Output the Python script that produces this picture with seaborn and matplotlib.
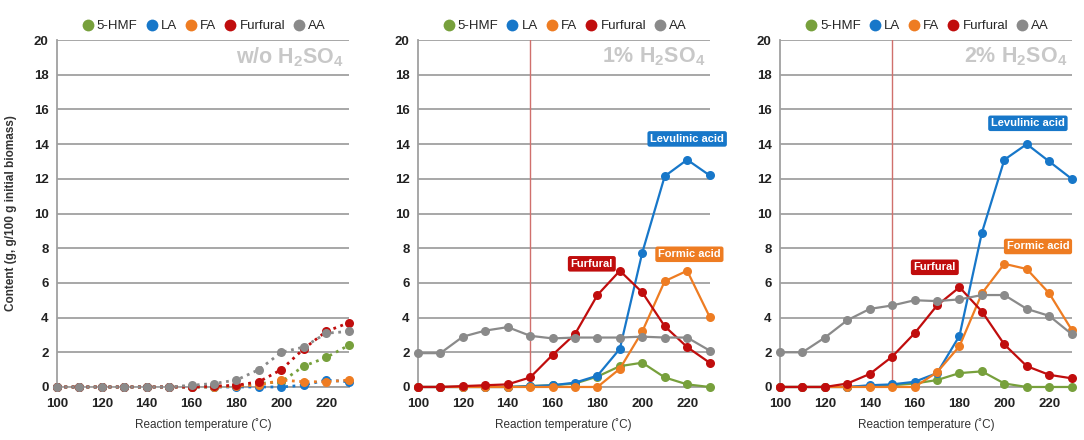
"""
Product content vs reaction temperature for three acid loadings (w/o, 1%, 2% H2SO4).
"""

import matplotlib
matplotlib.use("Agg")
import matplotlib.pyplot as plt
import seaborn as sns
import pandas as pd

OUTPUT_FILE = "out.png"

TEMPS = [100, 110, 120, 130, 140, 150, 160, 170, 180, 190, 200, 210, 220, 230]
COMPOUNDS = ["5-HMF", "LA", "FA", "Furfural", "AA"]
COLORS = {"5-HMF": "#77a03c", "LA": "#1777c9", "FA": "#ee7c22", "Furfural": "#c00d0d", "AA": "#8a8a8a"}

# w/o H2SO4
HMF_0 = [0, 0, 0, 0, 0, 0, 0, 0, 0.05, 0.2, 0.3, 1.2, 1.7, 2.4]
LA_0 = [0, 0, 0, 0, 0, 0, 0, 0, 0, 0, 0, 0.1, 0.4, 0.3]
FA_0 = [0, 0, 0, 0, 0, 0, 0, 0, 0.05, 0.1, 0.4, 0.3, 0.3, 0.4]
FUR_0 = [0, 0, 0, 0, 0, 0, 0, 0.05, 0.1, 0.3, 1.0, 2.2, 3.2, 3.7]
AA_0 = [0, 0, 0, 0, 0, 0, 0.1, 0.2, 0.4, 1.0, 2.0, 2.3, 3.1, 3.2]

# 1% H2SO4
HMF_1 = [0, 0, 0, 0, 0, 0.05, 0.1, 0.2, 0.6, 1.2, 1.4, 0.55, 0.15, 0.0]
LA_1 = [0, 0, 0, 0, 0, 0.05, 0.1, 0.25, 0.65, 2.2, 7.75, 12.15, 13.1, 12.2]
FA_1 = [0, 0, 0, 0, 0, 0, 0, 0, 0, 1.05, 3.2, 6.1, 6.7, 4.05]
FUR_1 = [0, 0, 0.05, 0.1, 0.15, 0.55, 1.85, 3.05, 5.3, 6.7, 5.45, 3.5, 2.3, 1.4]
AA_1 = [1.95, 1.95, 2.9, 3.25, 3.45, 2.95, 2.8, 2.85, 2.85, 2.85, 2.9, 2.85, 2.85, 2.1]

# 2% H2SO4
HMF_2 = [0, 0, 0, 0, 0.05, 0.1, 0.2, 0.4, 0.8, 0.9, 0.2, 0, 0, 0]
LA_2 = [0, 0, 0, 0, 0.1, 0.15, 0.3, 0.8, 2.95, 8.9, 13.1, 14.0, 13.0, 12.0]
FA_2 = [0, 0, 0, 0, 0, 0, 0, 0.85, 2.35, 5.4, 7.1, 6.8, 5.4, 3.3]
FUR_2 = [0, 0, 0, 0.2, 0.75, 1.75, 3.1, 4.7, 5.75, 4.35, 2.45, 1.2, 0.7, 0.5]
AA_2 = [2.0, 2.0, 2.85, 3.85, 4.5, 4.7, 5.0, 4.95, 5.05, 5.3, 5.3, 4.5, 4.1, 3.05]

PANEL_TITLES = ["w/o H$_2$SO$_4$", "1% H$_2$SO$_4$", "2% H$_2$SO$_4$"]
PANEL_DATA = [
    [HMF_0, LA_0, FA_0, FUR_0, AA_0],
    [HMF_1, LA_1, FA_1, FUR_1, AA_1],
    [HMF_2, LA_2, FA_2, FUR_2, AA_2],
]
PANEL_STYLE = [":", "-", "-"]

# callout labels (text, compound, x, y) for acid panels
CALLOUTS = [
    [],
    [("Levulinic acid", "LA", 220, 14.3), ("Formic acid", "FA", 221, 7.65), ("Furfural", "Furfural", 177.5, 7.1)],
    [("Levulinic acid", "LA", 210.5, 15.2), ("Formic acid", "FA", 215, 8.1), ("Furfural", "Furfural", 169, 6.9)],
]

sns.set_style("white")
plt.rcParams["font.family"] = ["Liberation Sans", "DejaVu Sans"]
plt.rcParams["mathtext.default"] = "regular"

fig = plt.figure(figsize=(10.84, 4.4), dpi=100)
lefts = [0.0526, 0.3856, 0.7196]
width = 0.269
bottom, top = 0.1205, 0.909

for i in range(3):
    ax = fig.add_axes([lefts[i], bottom, width, top - bottom])
    df = pd.DataFrame({"temp": TEMPS * 5,
                       "value": sum(PANEL_DATA[i], []),
                       "compound": [c for c in COMPOUNDS for _ in TEMPS]})
    for comp in COMPOUNDS:
        sub = df[df["compound"] == comp]
        sns.lineplot(data=sub, x="temp", y="value", ax=ax, color=COLORS[comp],
                     linestyle=PANEL_STYLE[i], linewidth=2.0 if i == 0 else 1.6,
                     marker="o", markersize=6.5, markeredgewidth=0, clip_on=False, zorder=3)

    if i > 0:
        ax.axvline(150, color="#d0706c", linewidth=1.0, zorder=2)

    ax.set_xlim(100, 230)
    ax.set_ylim(0, 20)
    ax.set_xticks(range(100, 221, 20))
    ax.set_yticks(range(0, 21, 2))
    ax.yaxis.grid(True, color="#a0a0a0", linewidth=1.3)
    ax.set_axisbelow(True)
    for s in ["top", "right"]:
        ax.spines[s].set_visible(False)
    ax.spines["left"].set_color("#a0a0a0")
    ax.spines["left"].set_linewidth(1.3)
    ax.spines["bottom"].set_color("#a0a0a0")
    ax.spines["bottom"].set_linewidth(1.3)
    ax.tick_params(axis="y", length=0, labelsize=9.5, pad=6)
    ax.tick_params(axis="x", length=0, labelsize=9.5, pad=8)
    for lab in ax.get_xticklabels() + ax.get_yticklabels():
        lab.set_fontweight("bold")
        lab.set_color("#222222")

    ax.set_xlabel("Reaction temperature (˚C)", fontsize=8.5, color="#333333", labelpad=6)
    if i == 0:
        ax.set_ylabel("Content (g, g/100 g initial biomass)", fontsize=8.5,
                      fontweight="bold", color="#333333", labelpad=12)
    else:
        ax.set_ylabel("")

    ax.text(0.985, 0.985, PANEL_TITLES[i], transform=ax.transAxes, ha="right", va="top",
            fontsize=15.5, color="#c8c8c8", fontweight="bold")

    for text, comp, x, y in CALLOUTS[i]:
        ax.text(x, y, text, ha="center", va="center", fontsize=8, fontweight="bold", color="white",
                bbox=dict(boxstyle="round,pad=0.25,rounding_size=0.2", fc=COLORS[comp], ec="none"),
                zorder=5)

    handles = [plt.plot([], [], marker="o", ls="", ms=8.5, mew=0, color=COLORS[c], label=c)[0] for c in COMPOUNDS]
    ax.legend(handles=handles, loc="lower center", bbox_to_anchor=(0.5, 1.0), ncol=5, frameon=False,
              fontsize=9.5, handletextpad=0.1, columnspacing=0.45, borderaxespad=0.2, handlelength=1.2)

plt.savefig(OUTPUT_FILE, dpi=100)
plt.close()
